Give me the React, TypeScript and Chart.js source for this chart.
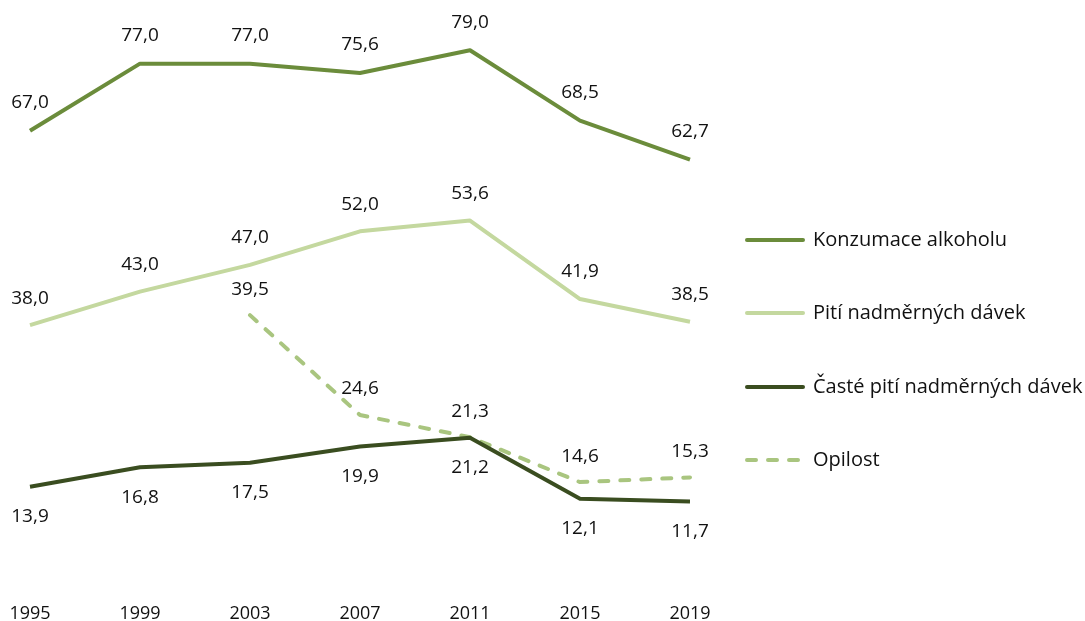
import React, { useEffect, useRef } from "react";
import { Chart, registerables } from "chart.js";

Chart.register(...registerables);

const years = ["1995", "1999", "2003", "2007", "2011", "2015", "2019"];
const konzumace = [67.0, 77.0, 77.0, 75.6, 79.0, 68.5, 62.7];
const pitiNadmernych = [38.0, 43.0, 47.0, 52.0, 53.6, 41.9, 38.5];
const castePiti = [13.9, 16.8, 17.5, 19.9, 21.2, 12.1, 11.7];
const opilost = [null, null, 39.5, 24.6, 21.3, 14.6, 15.3];

const seriesNames = [
  "Konzumace alkoholu",
  "Pití nadměrných dávek",
  "Časté pití nadměrných dávek",
  "Opilost",
];
const seriesColors = ["#6b8c3b", "#c4d89f", "#3a4d20", "#a9c57f"];
const labelOffsets = [-28, -27, 30, -26];

const FONT = "'Open Sans', 'Noto Sans', sans-serif";

const fmt = (v: number) => v.toFixed(1).replace(".", ",");

const labelPlugin = {
  id: "valueLabels",
  afterDatasetsDraw(chart: any) {
    const ctx = chart.ctx;
    ctx.save();
    ctx.font = `19px ${FONT}`;
    ctx.fillStyle = "#111";
    ctx.textAlign = "center";
    ctx.textBaseline = "middle";
    chart.data.datasets.forEach((ds: any, i: number) => {
      const meta = chart.getDatasetMeta(i);
      meta.data.forEach((pt: any, j: number) => {
        const v = ds.data[j];
        if (v === null || v === undefined) return;
        ctx.fillText(fmt(v), pt.x, pt.y + labelOffsets[i]);
      });
    });
    ctx.restore();
  },
};

const legendPlugin = {
  id: "customLegend",
  afterDraw(chart: any) {
    const ctx = chart.ctx;
    const x0 = 745;
    const x1 = 805;
    const ys = [240, 313, 387, 460];
    ctx.save();
    chart.data.datasets.forEach((ds: any, i: number) => {
      const y = ys[i];
      ctx.strokeStyle = ds.borderColor;
      ctx.lineWidth = 4;
      ctx.lineCap = "round";
      ctx.setLineDash(ds.borderDash || []);
      ctx.beginPath();
      ctx.moveTo(x0 + 2, y);
      ctx.lineTo(x1 - 2, y);
      ctx.stroke();
      ctx.setLineDash([]);
      ctx.font = `20px ${FONT}`;
      ctx.fillStyle = "#111";
      ctx.textAlign = "left";
      ctx.textBaseline = "middle";
      ctx.fillText(ds.label, 813, y);
    });
    ctx.restore();
  },
};

export default function App() {
  const ref = useRef<HTMLCanvasElement | null>(null);
  useEffect(() => {
    if (!ref.current) return;
    const datasets = [konzumace, pitiNadmernych, castePiti, opilost].map((d, i) => ({
      label: seriesNames[i],
      data: d,
      borderColor: seriesColors[i],
      backgroundColor: seriesColors[i],
      borderWidth: 4,
      pointRadius: 0,
      pointHoverRadius: 0,
      tension: 0,
      spanGaps: false,
      borderCapStyle: i === 3 ? "round" : "butt",
      borderJoinStyle: "round",
      borderDash: i === 3 ? [9, 12] : [],
      fill: false,
    }));
    const chart = new Chart(ref.current, {
      type: "line",
      data: { labels: years, datasets: datasets as any },
      options: {
        animation: false,
        responsive: false,
        maintainAspectRatio: false,
        layout: { padding: { top: 10, left: 30, right: 395, bottom: 0 } },
        plugins: {
          legend: { display: false },
          tooltip: { enabled: false },
        },
        scales: {
          x: {
            offset: false,
            grid: { display: false, drawTicks: false },
            border: { display: false },
            ticks: {
              color: "#111",
              font: { family: FONT, size: 18 },
              padding: 23,
              maxRotation: 0,
            },
            afterFit: (scale: any) => {
              scale.height = 41;
              scale.paddingLeft = 0;
              scale.paddingRight = 0;
            },
          },
          y: {
            display: false,
            min: 0,
            max: 85,
          },
        },
      },
      plugins: [labelPlugin, legendPlugin],
    });
    return () => chart.destroy();
  }, []);
  return (
    <div style={{ position: "absolute", left: 0, top: 0, width: 1085, height: 621, background: "#fff" }}>
      <canvas ref={ref} width={1085} height={621} style={{ display: "block" }} />
    </div>
  );
}
